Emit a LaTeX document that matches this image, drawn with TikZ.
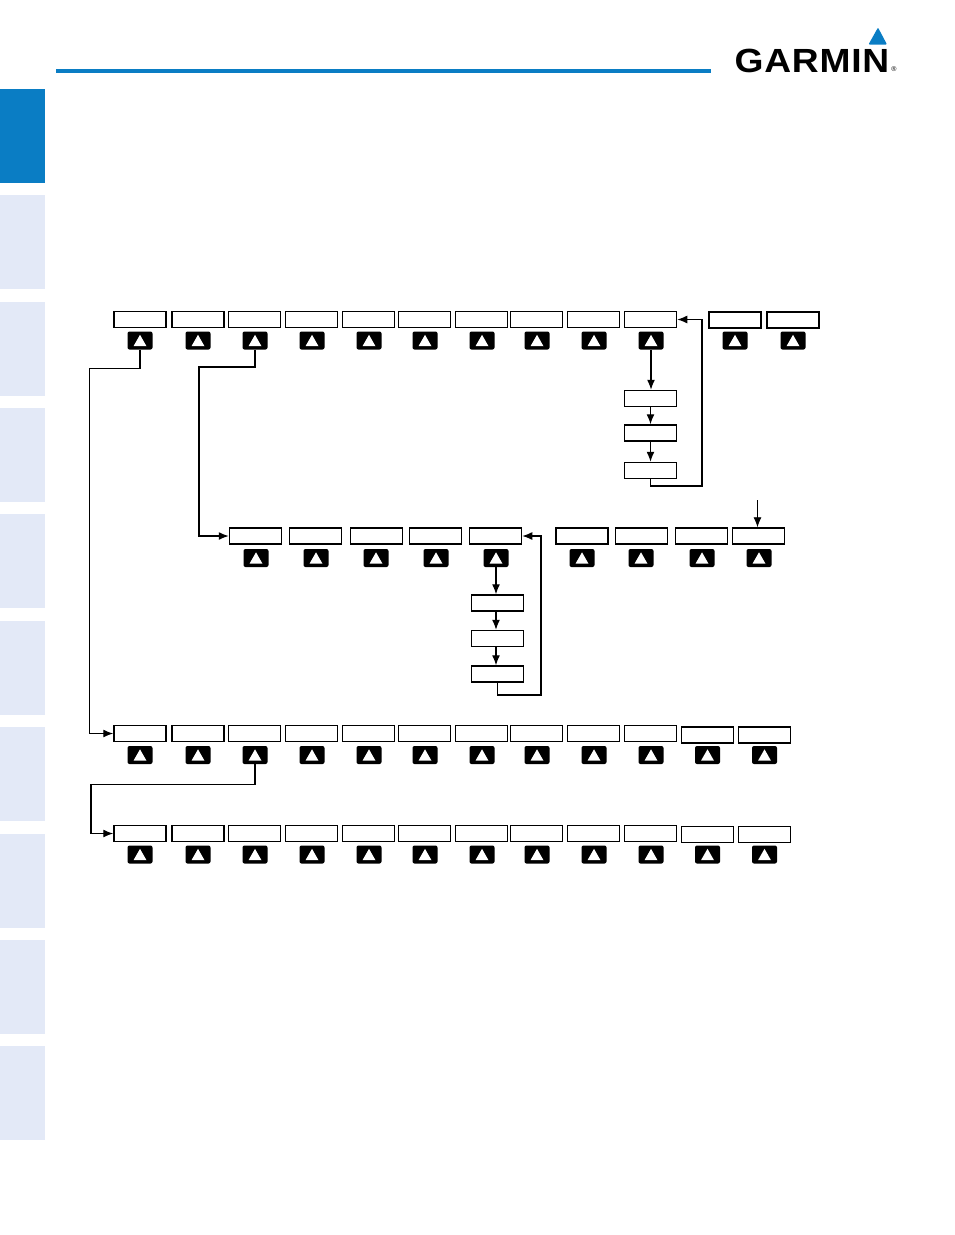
\documentclass[tikz,border=0pt]{standalone}
\usepackage{fontspec}
\usepackage{xcolor}
\usetikzlibrary{arrows.meta}
\newfontfamily\logofont{Liberation Sans}[LetterSpace=2]
\definecolor{tabblue}{HTML}{0A7DC4}
\definecolor{tablight}{HTML}{E3E9F7}
\tikzset{
	softkey/.style={draw,line width=1.5pt,fill=white,minimum width=52pt,minimum height=16pt,inner sep=0pt},
	softkeybold/.style={softkey,line width=2pt},
	softbtn/.style={fill=black,rounded corners=2pt,minimum width=25pt,minimum height=18pt,inner sep=0pt},
	link/.style={line width=1.3pt,-{Latex[length=10pt,width=8pt]}},
	sidetab/.style={fill=tablight,draw=none,minimum width=45pt,minimum height=94pt,inner sep=0pt,anchor=north west},
}
% one soft key: box (k<name>) and its button (b<name>)
\newcommand{\softkeypair}[6][softkey]{
	\node[#1] (k#2) at (#3,#4) {};
	\node[softbtn] (b#2) at (#5,#6) {};
	\fill[white] (#5,#6-5.7) -- (#5+6.5,#6+5.7) -- (#5-6.5,#6+5.7) -- cycle;
}
\begin{document}
\begin{tikzpicture}[x=1pt,y=-1pt]
	\useasboundingbox (0,0) rectangle (954,1235);

	\fill[tabblue] (56,69) rectangle (711,73);
	\node[sidetab,fill=tabblue] (tab0) at (0,89) {};
	\foreach \y [count=\i] in {195,302,408,514,621,727,834,940,1046}
		\node[sidetab] (tab\i) at (0,\y) {};

	% logo
	\fill[tabblue,rounded corners=1pt] (878,27.5) -- (887,44.5) -- (868.5,44.5) -- cycle;
	\node[inner sep=0pt,anchor=base west,font=\logofont\bfseries\fontsize{33.5}{33.5}\selectfont,xscale=1.11,transform shape] (logo) at (734.5,72) {GARMIN};
	\node[inner sep=0pt,font=\logofont\fontsize{7}{7}\selectfont] (reg) at (894,69.5) {®};

	% first row
	\foreach \x/\bx [count=\i] in {140/140,198/198,254.5/255,311.5/312,368.5/369,424.5/425,481.5/482,536.5/537,593.5/594,650.5/651}
		{\softkeypair{a\i}{\x}{319.5}{\bx}{340.5}}
	\softkeypair[softkeybold]{a11}{735}{319.5}{735}{340.5}
	\softkeypair[softkeybold]{a12}{792.5}{319.5}{793}{340.5}
	\node[softkey] (sa1) at (650.5,398.5) {};
	\node[softkey] (sa2) at (650.5,433) {};
	\node[softkey] (sa3) at (650.5,470.5) {};

	% second row
	\foreach \x/\bx [count=\i] in {255.5/256,315.5/316,376.5/376,435.5/436,495.5/496,582/582,641.5/641,701.5/702,758.5/759}
		{\softkeypair{c\i}{\x}{536}{\bx}{558}}
	\node[softkey] (sc1) at (497.5,603) {};
	\node[softkey] (sc2) at (497.5,638.5) {};
	\node[softkey] (sc3) at (497.5,674) {};

	% third and fourth row
	\foreach \x/\bx [count=\i] in {140/140,198/198,254.5/255,311.5/312,368.5/369,424.5/425,481.5/482,536.5/537,593.5/594,650.5/651}{
		\softkeypair{d\i}{\x}{733.5}{\bx}{755}
		\softkeypair{e\i}{\x}{833.5}{\bx}{854.5}
	}
	\softkeypair{d11}{707.5}{735}{707.5}{755}
	\softkeypair{d12}{764.5}{735}{764.5}{755}
	\softkeypair{e11}{707.5}{834.5}{707.5}{854.5}
	\softkeypair{e12}{764.5}{834.5}{764.5}{854.5}

	\coordinate (turna) at (89.5,368.5);
	\coordinate (turnb) at (199,367);
	\coordinate (turnc) at (91,784.5);
	\coordinate (turnd) at (702,486);
	\coordinate (turne) at (541,695);
	\coordinate (topc9) at (757.5,500);

	\draw[link] (ba1.south) |- (turna) |- (kd1.west);
	\draw[link] (ba3.south) |- (turnb) |- (kc1.west);
	\draw[link] (bd3.south) |- (turnc) |- (ke1.west);
	\draw[link] (ba10.south) -- (sa1.north -| ba10.south);
	\draw[link] (sa1.south) -- (sa2.north);
	\draw[link] (sa2.south) -- (sa3.north);
	\draw[link] (sa3.south) |- (turnd) |- (ka10.east);
	\draw[link] (bc5.south) -- (sc1.north -| bc5.south);
	\draw[link] (sc1.south -| bc5.south) -- (sc2.north -| bc5.south);
	\draw[link] (sc2.south -| bc5.south) -- (sc3.north -| bc5.south);
	\draw[link] (sc3.south) |- (turne) |- (kc5.east);
	\draw[link,line width=0.8pt] (topc9) -- (kc9.north -| topc9);
\end{tikzpicture}
\end{document}
